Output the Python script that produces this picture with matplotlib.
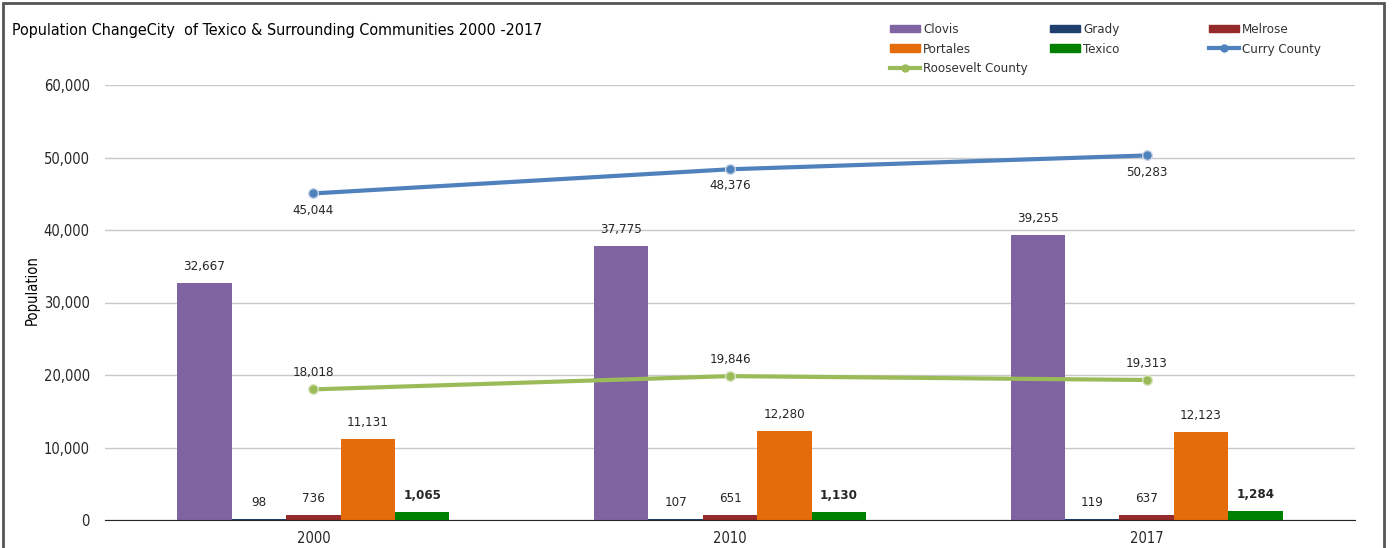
import matplotlib
matplotlib.use("Agg")
import matplotlib.pyplot as plt
from matplotlib.patches import Rectangle, Patch
from matplotlib.lines import Line2D
import numpy as np

plt.rcParams["font.family"] = ["DejaVu Sans"]
plt.rcParams["font.stretch"] = "condensed"

years = ["2000", "2010", "2017"]
bar_names = ["Clovis", "Grady", "Melrose", "Portales", "Texico"]
clovis = [32667, 37775, 39255]
grady = [98, 107, 119]
melrose = [736, 651, 637]
portales = [11131, 12280, 12123]
texico = [1065, 1130, 1284]
curry = [45044, 48376, 50283]
roosevelt = [18018, 19846, 19313]

bar_colors = ["#8064A2", "#1F3F6E", "#952A2A", "#E46C0A", "#008000"]
curry_color = "#4F81BD"
roosevelt_color = "#9BBB59"
txt = "#262626"

fig = plt.figure(figsize=(13.93, 5.48), dpi=100)
ax = fig.add_axes([105 / 1393, 1 - 520 / 548, 1250 / 1393, 435 / 548])

x = np.arange(len(years))
width = 0.1306
series = [clovis, grady, melrose, portales, texico]
for i, (name, vals, col) in enumerate(zip(bar_names, series, bar_colors)):
    pos = x + (i - 2) * width
    ax.bar(pos, vals, width=width, color=col, zorder=2)
    for p, v in zip(pos, vals):
        ax.text(p, v + 1400, f"{v:,}", ha="center", va="bottom", fontsize=9.5,
                color=txt, fontweight="bold" if name == "Texico" else "normal")

ax.plot(x, curry, color=curry_color, lw=3, marker="o", ms=7,
        markeredgecolor="#C9D6E8", markeredgewidth=1, zorder=4)
ax.plot(x, roosevelt, color=roosevelt_color, lw=3, marker="o", ms=7,
        markeredgecolor="#D9E4C3", markeredgewidth=1, zorder=4)
for p, v in zip(x, curry):
    ax.text(p, v - 1400, f"{v:,}", ha="center", va="top", fontsize=9.5, color=txt)
for p, v in zip(x, roosevelt):
    ax.text(p, v + 1400, f"{v:,}", ha="center", va="bottom", fontsize=9.5, color=txt)

ax.set_xlim(-0.5, 2.5)
ax.set_ylim(0, 60000)
ax.set_yticks(np.arange(0, 60001, 10000))
ax.set_yticklabels([f"{t:,}" for t in range(0, 60001, 10000)], fontsize=10.5, color=txt)
ax.set_xticks(x)
ax.set_xticklabels(years, fontsize=10.5, color=txt)
ax.tick_params(axis="x", length=0, pad=8)
ax.tick_params(axis="y", length=0, pad=11)
ax.grid(axis="y", color="#C8C8C8", lw=1, zorder=0)
ax.set_axisbelow(True)
for s in ["top", "right", "left"]:
    ax.spines[s].set_visible(False)
ax.spines["bottom"].set_color(txt)
ax.set_ylabel("Population", fontsize=10.5, color="black", va="center")
ax.yaxis.set_label_coords(-(105 - 32) / 1250, (520 - 290) / 435)

fig.text(12 / 1393, 1 - 31 / 548, "Population ChangeCity  of Texico & Surrounding Communities 2000 -2017",
         fontsize=11.5, va="center", ha="left", color="black")

# legend in three columns
def bar_h(c):
    return Patch(facecolor=c, edgecolor=c)

def line_h(c):
    return Line2D([], [], color=c, lw=3, marker="o", ms=5)

cols = [
    ([bar_h(bar_colors[0]), bar_h(bar_colors[3]), line_h(roosevelt_color)],
     ["Clovis", "Portales", "Roosevelt County"], 890),
    ([bar_h(bar_colors[1]), bar_h(bar_colors[4])], ["Grady", "Texico"], 1050),
    ([bar_h(bar_colors[2]), line_h(curry_color)], ["Melrose", "Curry County"], 1209),
]
for handles, labels, px in cols:
    fig.legend(handles, labels, loc="upper left", bbox_to_anchor=(px / 1393, 1 - 23 / 548),
               frameon=False, fontsize=9.5, handlelength=2.3, handleheight=0.5,
               handletextpad=0.2, labelspacing=0.5, borderpad=0, borderaxespad=0,
               labelcolor="#333333")

fig.patches.append(Rectangle((3 / 1393, -0.05), 1381 / 1393, 1.05 - 3 / 548,
                             transform=fig.transFigure, fill=False,
                             edgecolor="#555555", lw=2))

fig.savefig("out.png", dpi=100)
